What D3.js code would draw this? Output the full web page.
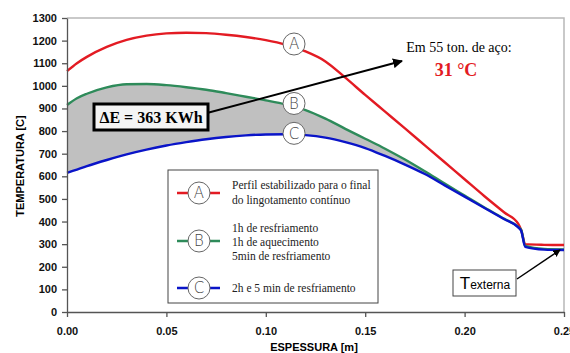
<!DOCTYPE html>
<html>
<head>
<meta charset="utf-8">
<script src="https://cdn.jsdelivr.net/npm/d3@7"></script>
<style>
  body { margin: 0; background: #fff; }
  .tick text { font-family: Arial, "Liberation Sans", sans-serif; font-weight: bold; font-size: 11px; fill: #111; }
  .serif { font-family: "Liberation Serif", "Times New Roman", serif; }
</style>
</head>
<body>
<script>
// data
var espessura = [0, 0.005, 0.01, 0.02, 0.03, 0.04, 0.05, 0.06, 0.07, 0.08, 0.09, 0.10, 0.11, 0.12, 0.13,
  0.14, 0.15, 0.16, 0.17, 0.18, 0.19, 0.20, 0.21, 0.22, 0.227, 0.2285, 0.2305, 0.24, 0.25];
var perfilA = [1065, 1100, 1128, 1172, 1203, 1222, 1232, 1235, 1233, 1226, 1216, 1202, 1182, 1152, 1108,
  1036, 960, 886, 812, 737, 662, 587, 512, 440, 390, 362, 300, 297, 296];
var perfilB = [915, 945, 965, 993, 1007, 1008, 1003, 994, 983, 968, 952, 936, 918, 893, 855,
  810, 766, 722, 674, 622, 568, 515, 462, 412, 376, 362, 292, 279, 277];
var perfilC = [615, 630, 645, 672, 697, 718, 736, 751, 764, 774, 781, 785, 786, 782, 771,
  751, 725, 690, 652, 610, 560, 510, 460, 410, 374, 358, 288, 276, 274];
var xTicks = [0, 0.05, 0.10, 0.15, 0.20, 0.25];
var yTicks = d3.range(0, 1301, 100);
var legendTexts = [
  ["Perfil estabilizado para o final", "do lingotamento contínuo"],
  ["1h de resfriamento", "1h de aquecimento", "5min de resfriamento"],
  ["2h e 5 min de resfriamento"]
];
var labels = ["A", "B", "C"];
var colors = ["#e31b23", "#2e8b5a", "#0a14c8"];

var margin = {top: 18, right: 6, bottom: 41, left: 67},
    width = 570 - margin.left - margin.right,
    height = 353 - margin.top - margin.bottom;

var x = d3.scaleLinear().domain([0, 0.25]).range([0, width]);
var y = d3.scaleLinear().domain([0, 1300]).range([height, 0]);

var svg = d3.select("body").append("svg")
    .attr("width", 570)
    .attr("height", 353)
  .append("g")
    .attr("transform", "translate(" + margin.left + "," + margin.top + ")");

// frame top/right
svg.append("path")
    .attr("d", "M0,0H" + width + "V" + height)
    .attr("fill", "none")
    .attr("stroke", "#b8b8b8")
    .attr("stroke-width", 1.5);

// gray area between B and C
var area = d3.area()
    .x(function(d) { return x(d.x); })
    .y0(function(d) { return y(d.c); })
    .y1(function(d) { return y(d.b); })
    .curve(d3.curveMonotoneX);
var areaData = espessura.map(function(e, i) { return {x: e, b: perfilB[i], c: perfilC[i]}; });
svg.append("path").datum(areaData)
    .attr("d", area)
    .attr("fill", "#c0c0c0");

var line = d3.line()
    .x(function(d) { return x(d[0]); })
    .y(function(d) { return y(d[1]); })
    .curve(d3.curveMonotoneX);

[perfilA, perfilB, perfilC].forEach(function(serie, k) {
  svg.append("path")
      .datum(espessura.map(function(e, i) { return [e, serie[i]]; }))
      .attr("d", line)
      .attr("fill", "none")
      .attr("stroke", colors[k])
      .attr("stroke-width", 2.4);
});

// axes
var xAxis = d3.axisBottom(x).tickValues(xTicks).tickFormat(d3.format(".2f")).tickSize(5).tickSizeOuter(0);
var yAxis = d3.axisLeft(y).tickValues(yTicks).tickFormat(d3.format("d")).tickSize(5).tickSizeOuter(0);

var gx = svg.append("g")
    .attr("transform", "translate(0," + height + ")")
    .call(xAxis);
gx.selectAll("text").attr("dy", "1.4em");
var gy = svg.append("g").call(yAxis);
gy.selectAll("text").attr("x", -10);
svg.selectAll(".domain, .tick line").attr("stroke", "#555").attr("stroke-width", 1.3);

svg.append("text")
    .attr("transform", "translate(" + (20 - margin.left) + "," + (166 - margin.top) + ") rotate(-90)")
    .attr("text-anchor", "middle")
    .attr("dy", "0.35em")
    .style("font-family", "Arial, 'Liberation Sans', sans-serif")
    .style("font-weight", "bold")
    .style("font-size", "11px")
    .text("TEMPERATURA [C]");

svg.append("text")
    .attr("x", 314 - margin.left)
    .attr("y", 347 - margin.top)
    .attr("text-anchor", "middle")
    .attr("dy", "0.35em")
    .style("font-family", "Arial, 'Liberation Sans', sans-serif")
    .style("font-weight", "bold")
    .style("font-size", "11px")
    .text("ESPESSURA [m]");

// circle markers on curves
function marker(g, cx, cy, letter) {
  g.append("circle").attr("cx", cx).attr("cy", cy).attr("r", 11)
      .attr("fill", "#fff").attr("stroke", "#666").attr("stroke-width", 1);
  g.append("text").attr("x", cx).attr("y", cy).attr("dy", "0.36em")
      .attr("text-anchor", "middle")
      .style("font-family", "'DejaVu Sans', Arial, sans-serif")
      .style("font-weight", "200")
      .style("font-size", "15px")
      .attr("fill", "#444")
      .text(letter);
}
var markerX = 0.1142;
var markerY = [1185, 922, 790];
labels.forEach(function(l, i) { marker(svg, x(markerX), y(markerY[i]), l); });

// arrow head def
svg.append("defs").append("marker")
    .attr("id", "arr").attr("viewBox", "0 0 10 10").attr("refX", 9).attr("refY", 5)
    .attr("markerWidth", 5).attr("markerHeight", 5).attr("orient", "auto")
  .append("path").attr("d", "M0,0L10,5L0,10z").attr("fill", "#000");

// Delta E callout
svg.append("line")
    .attr("x1", 207 - margin.left).attr("y1", 113 - margin.top)
    .attr("x2", 402 - margin.left).attr("y2", 61 - margin.top)
    .attr("stroke", "#000").attr("stroke-width", 2)
    .attr("marker-end", "url(#arr)");
svg.append("rect")
    .attr("x", 94 - margin.left).attr("y", 104 - margin.top)
    .attr("width", 114).attr("height", 26)
    .attr("fill", "#f4f4f4").attr("stroke", "#000").attr("stroke-width", 3);
svg.append("text").attr("class", "serif")
    .attr("x", 151 - margin.left).attr("y", 117 - margin.top).attr("dy", "0.35em")
    .attr("text-anchor", "middle")
    .style("font-weight", "bold").style("font-size", "16px")
    .text("\u0394E = 363 KWh");

svg.append("text").attr("class", "serif")
    .attr("x", 459 - margin.left).attr("y", 47 - margin.top).attr("dy", "0.35em")
    .attr("text-anchor", "middle")
    .style("font-size", "14px")
    .text("Em 55 ton. de aço:");
svg.append("text").attr("class", "serif")
    .attr("x", 456 - margin.left).attr("y", 70 - margin.top).attr("dy", "0.35em")
    .attr("text-anchor", "middle")
    .style("font-size", "18px").style("font-weight", "bold")
    .attr("fill", "#e31b23")
    .text("31 °C");

// Texterna callout
svg.append("line")
    .attr("x1", 517 - margin.left).attr("y1", 279 - margin.top)
    .attr("x2", 560 - margin.left).attr("y2", 250 - margin.top)
    .attr("stroke", "#000").attr("stroke-width", 1.5)
    .attr("marker-end", "url(#arr)");
svg.append("rect")
    .attr("x", 453 - margin.left).attr("y", 270 - margin.top)
    .attr("width", 63).attr("height", 26)
    .attr("fill", "#fff").attr("stroke", "#444").attr("stroke-width", 1);
var tt = svg.append("text")
    .attr("x", 485 - margin.left).attr("y", 289 - margin.top)
    .attr("text-anchor", "middle")
    .style("font-family", "Arial, 'Liberation Sans', sans-serif");
tt.append("tspan").style("font-size", "17px").text("T");
tt.append("tspan").style("font-size", "12px").text("externa");

// legend
var lg = svg.append("g").attr("transform", "translate(" + (168 - margin.left) + "," + (170 - margin.top) + ")");
lg.append("rect").attr("width", 210).attr("height", 133)
    .attr("fill", "#fff").attr("stroke", "#444").attr("stroke-width", 1);
var rowY = [23, 71, 118];
var lineY = [[15, 30], [58, 72, 86], [118]];
labels.forEach(function(l, i) {
  lg.append("line").attr("x1", 9).attr("x2", 52).attr("y1", rowY[i]).attr("y2", rowY[i])
      .attr("stroke", colors[i]).attr("stroke-width", 2.4);
  marker(lg, 31, rowY[i], l);
  legendTexts[i].forEach(function(t, j) {
    lg.append("text").attr("class", "serif")
        .attr("x", 64).attr("y", lineY[i][j]).attr("dy", "0.35em")
        .style("font-size", "11.5px")
        .attr("fill", "#222")
        .text(t);
  });
});
</script>
</body>
</html>
